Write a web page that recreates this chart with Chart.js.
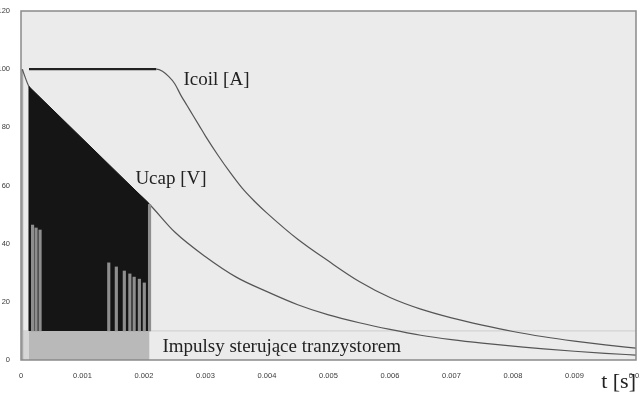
<!DOCTYPE html>
<html>
<head>
<meta charset="utf-8">
<script src="https://cdn.jsdelivr.net/npm/chart.js@4/dist/chart.umd.min.js"></script>
<style>
html, body { margin: 0; padding: 0; background: #fff; }
#wrap { width: 640px; height: 396px; }
</style>
</head>
<body>
<div id="wrap"><canvas id="chart"></canvas></div>
<script>
// Icoil [A]
var icoilT = [0.00013, 0.0005, 0.001, 0.0015, 0.002, 0.0022, 0.0023, 0.0024, 0.0025, 0.0026, 0.0027, 0.0028, 0.0029, 0.003,
              0.0032, 0.0034, 0.0036, 0.0038, 0.004, 0.0045, 0.005, 0.0055, 0.006, 0.0065, 0.007, 0.0075, 0.008, 0.0085, 0.009, 0.0095, 0.01];
var icoilV = [100, 100, 100, 100, 100, 100, 99.3, 97.5, 95, 91, 87.5, 84, 80.5, 77,
              70.5, 64.5, 59, 54.5, 50.5, 41.5, 34, 27, 21.5, 17.5, 14.5, 12, 9.8, 8, 6.5, 5.2, 4.1];

// Ucap [V]
var ucapT = [0.00002, 0.00013, 0.0021, 0.0025, 0.003, 0.0035, 0.004, 0.0045, 0.005, 0.0055, 0.006, 0.0065, 0.007, 0.0075, 0.008, 0.0085, 0.009, 0.0095, 0.01];
var ucapV = [100, 94, 53.3, 44, 35.5, 28.5, 23.5, 19, 15.5, 12.8, 10.5, 8.5, 7, 5.8, 4.8, 3.8, 3, 2.3, 1.7];

// switching area (black) and gaps in it
var chopT = [0.00013, 0.00013, 0.00207, 0.00207];
var chopV = [10, 94, 54, 10];
var gapT = [0.000188, 0.000245, 0.00031, 0.001427, 0.00155, 0.00168, 0.00177, 0.00184, 0.001925, 0.002005, 0.00209];
var gapTop = [46.4, 45.4, 44.7, 33.4, 32, 30.6, 29.6, 28.5, 27.8, 26.5, 53.5];

// transistor gate pulses
var pulseT = [0.00013, 0.00209];
var pulseV = [10, 10];
var preT = [0.00002, 0.00013];
var preV = [10, 10];
var levelT = [0, 0.01];
var levelV = [10, 10];
var riseT = [0.00002, 0.00002];
var riseV = [0, 100];

var yTicks = [0, 20, 40, 60, 80, 100, 120];

function pts(t, v) {
    return t.map(function(x, i) { return { x: x, y: v[i] }; });
}

var serif = "'Liberation Serif', 'DejaVu Serif', serif";
var sans = "'Liberation Sans', Arial, sans-serif";

var notes = [
    { text: "Icoil [A]", t: 0.002643, v: 94.6 },
    { text: "Ucap [V]", t: 0.00186, v: 60.5 },
    { text: "Impulsy sterujące tranzystorem", t: 0.0023, v: 2.75 }
];

var plotFrame = {
    id: "plotFrame",
    beforeDraw: function(chart) {
        var a = chart.chartArea, ctx = chart.ctx;
        ctx.save();
        ctx.fillStyle = "#ebebeb";
        ctx.fillRect(a.left, a.top, a.right - a.left, a.bottom - a.top);
        ctx.restore();
    },
    afterDraw: function(chart) {
        var a = chart.chartArea, ctx = chart.ctx;
        var xs = chart.scales.x, ys = chart.scales.y;
        ctx.save();
        ctx.strokeStyle = "#8a8a8a";
        ctx.lineWidth = 1.5;
        ctx.strokeRect(a.left, a.top, a.right - a.left, a.bottom - a.top);
        ctx.fillStyle = "#222";
        ctx.font = "19px " + serif;
        ctx.textAlign = "left";
        ctx.textBaseline = "alphabetic";
        notes.forEach(function(n) {
            ctx.fillText(n.text, xs.getPixelForValue(n.t), ys.getPixelForValue(n.v));
        });
        ctx.restore();
    }
};

new Chart(document.getElementById("chart"), {
    type: "line",
    data: {
        datasets: [
            {
                label: "level",
                data: pts(levelT, levelV),
                borderColor: "#cdcdcd",
                borderWidth: 1,
                pointRadius: 0,
                order: 9
            },
            {
                label: "pre",
                data: pts(preT, preV),
                borderWidth: 0,
                backgroundColor: "#d6d6d6",
                fill: "origin",
                pointRadius: 0,
                order: 8
            },
            {
                label: "Impulsy",
                data: pts(pulseT, pulseV),
                borderWidth: 0,
                backgroundColor: "#b9b9b9",
                fill: "origin",
                pointRadius: 0,
                order: 7
            },
            {
                label: "rise",
                data: pts(riseT, riseV),
                borderColor: "#a8a8a8",
                borderWidth: 2,
                pointRadius: 0,
                order: 6.5
            },
            {
                label: "Ucap",
                data: pts(ucapT, ucapV),
                borderColor: "#555",
                borderWidth: 1.2,
                pointRadius: 0,
                cubicInterpolationMode: "monotone",
                order: 6
            },
            {
                label: "chop",
                data: pts(chopT, chopV),
                borderColor: "#151515",
                borderWidth: 1,
                backgroundColor: "#151515",
                fill: { value: 10 },
                pointRadius: 0,
                order: 5
            },
            {
                type: "bar",
                label: "gaps",
                data: gapT.map(function(t, i) { return { x: t, y: [10, gapTop[i]] }; }),
                backgroundColor: "#8e8e8e",
                barThickness: 2.5,
                grouped: false,
                order: 4
            },
            {
                label: "Icoil",
                data: pts(icoilT, icoilV),
                borderColor: "#444",
                borderWidth: 1.2,
                segment: {
                    borderWidth: function(c) { return c.p1.parsed.x <= 0.0022 ? 2.2 : 1.2; },
                    borderColor: function(c) { return c.p1.parsed.x <= 0.0022 ? "#222" : "#555"; }
                },
                pointRadius: 0,
                cubicInterpolationMode: "monotone",
                order: 2
            }
        ]
    },
    options: {
        responsive: true,
        maintainAspectRatio: false,
        animation: false,
        layout: { padding: { top: 11, right: 4, left: 0, bottom: 0 } },
        plugins: {
            legend: { display: false },
            tooltip: { enabled: false }
        },
        scales: {
            x: {
                type: "linear",
                min: 0,
                max: 0.01,
                offset: false,
                grid: { display: false },
                border: { display: false },
                ticks: {
                    stepSize: 0.001,
                    padding: 3,
                    color: "#3a3a3a",
                    font: { family: sans, size: 7.5 },
                    maxRotation: 0,
                    autoSkip: false,
                    callback: function(v) {
                        var r = Math.round(v * 1000) / 1000;
                        return r === 0 ? "0" : String(r);
                    }
                },
                title: {
                    display: true,
                    text: "t [s]",
                    align: "end",
                    color: "#222",
                    font: { family: serif, size: 22 },
                    padding: { top: 0, bottom: 1 }
                },
                afterFit: function(s) {
                    s.height = 36;
                    s.paddingLeft = 0;
                    s.paddingRight = 0;
                }
            },
            y: {
                min: 0,
                max: 120,
                grid: { display: false },
                border: { display: false },
                afterBuildTicks: function(s) {
                    s.ticks = yTicks.map(function(v) { return { value: v }; });
                },
                ticks: {
                    padding: 3,
                    color: "#3a3a3a",
                    font: { family: sans, size: 7.5 }
                },
                afterFit: function(s) {
                    s.width = 21;
                    s.paddingTop = 0;
                    s.paddingBottom = 0;
                }
            }
        }
    },
    plugins: [plotFrame]
});
</script>
</body>
</html>
